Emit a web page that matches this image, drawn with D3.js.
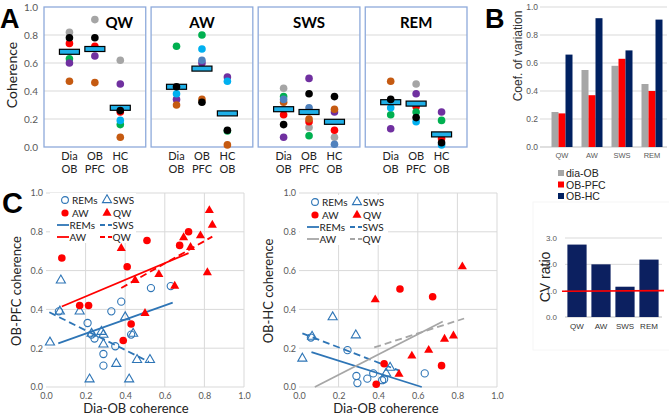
<!DOCTYPE html>
<html>
<head>
<meta charset="utf-8">
<script src="https://cdn.jsdelivr.net/npm/d3@7"></script>
<style>
  body { margin: 0; background: #fff; }
  svg { display: block; font-family: Lato, "Liberation Sans", Arial, sans-serif; }
  .arial { font-family: "Liberation Sans", Arial, sans-serif; }
</style>
</head>
<body>
<div id="chart"></div>
<script>
// ---------- data ----------
var states = ["QW", "AW", "SWS", "REM"];
var pairs = [["Dia", "OB"], ["OB", "PFC"], ["HC", "OB"]];
var animals = ["R1", "R2", "R3", "R4", "R5", "R6", "R7", "R8"];
var cohTicks = [0, 0.2, 0.4, 0.6, 0.8, 1.0];

// coherence per animal (R1..R8), rows: Dia-OB, OB-PFC, HC-OB
var qwCoh = [
  [0.82, 0.78, 0.74, 0.63, 0.60, 0.47, null, null],
  [0.91, 0.78, 0.72, null, 0.65, 0.46, null, null],
  [0.62, 0.26, 0.25, 0.16, 0.45, 0.07, 0.19, null]
];
var awCoh = [
  [null, 0.43, null, 0.72, 0.34, 0.30, 0.38, null],
  [null, 0.32, null, 0.80, 0.60, 0.34, 0.70, 0.62],
  [null, 0.12, null, 0.115, 0.50, 0.015, 0.47, null]
];
var swsCoh = [
  [0.42, 0.16, 0.23, 0.36, 0.07, 0.32, null, 0.34],
  [0.14, 0.38, 0.18, 0.08, 0.49, 0.20, null, 0.28],
  [0.07, 0.36, 0.12, null, 0.25, 0.27, null, 0.02]
];
var remCoh = [
  [null, 0.34, null, 0.23, 0.13, 0.47, 0.28, null],
  [0.45, 0.21, 0.29, 0.25, 0.38, null, 0.18, null],
  [null, 0.03, 0.06, 0.19, 0.25, null, 0.015, null]
];
var qwMean = [0.68, 0.70, 0.28];
var awMean = [0.43, 0.56, 0.24];
var swsMean = [0.27, 0.25, 0.18];
var remMean = [0.32, 0.31, 0.09];

// B: coefficient of variation
var cvSeries = ["dia-OB", "OB-PFC", "OB-HC"];
var cvDiaOB = [0.25, 0.55, 0.58, 0.45];
var cvObPfc = [0.24, 0.37, 0.63, 0.40];
var cvObHc = [0.66, 0.92, 0.69, 0.91];
var cvRatio = [2.75, 2.0, 1.15, 2.18];
var cvTicks = [0, 0.2, 0.4, 0.6, 0.8, 1.0];
var ratioTicks = [0, 1, 2, 3];

// C: scatter, [Dia-OB, OB-PFC]
var remPfc = [[0.065,0.39],[0.21,0.33],[0.23,0.27],[0.245,0.25],[0.29,0.17],[0.29,0.11],[0.33,0.39],[0.35,0.21],[0.38,0.44],[0.43,0.27],[0.53,0.51],[0.63,0.52]];
var swsPfc = [[0.02,0.23],[0.075,0.55],[0.07,0.39],[0.17,0.39],[0.23,0.275],[0.28,0.285],[0.29,0.27],[0.29,0.22],[0.22,0.04],[0.355,0.12],[0.40,0.36],[0.44,0.275],[0.42,0.04],[0.46,0.14],[0.525,0.14]];
var awPfc = [[0.08,0.665],[0.17,0.42],[0.215,0.42],[0.39,0.24],[0.43,0.325],[0.41,0.62],[0.51,0.755],[0.675,0.73],[0.72,0.80]];
var qwPfc = [[0.38,0.715],[0.45,0.55],[0.50,0.38],[0.57,0.58],[0.65,0.52],[0.695,0.77],[0.73,0.72],[0.78,0.78],[0.825,0.91],[0.84,0.835],[0.815,0.59]];
var trendPfc = {
  rem: [[0.062,0.225],[0.64,0.435]],
  sws: [[0.017,0.385],[0.52,0.13]],
  aw:  [[0.08,0.415],[0.72,0.69]],
  qw:  [[0.38,0.51],[0.84,0.775]]
};
// C: scatter, [Dia-OB, OB-HC]
var remHc = [[0.06,0.255],[0.245,0.19],[0.29,0.057],[0.295,0.02],[0.345,0.043],[0.375,0.07],[0.42,0.035],[0.43,0.04],[0.635,0.07]];
var swsHc = [[0.017,0.147],[0.066,0.26],[0.17,0.36],[0.287,0.267],[0.44,0.07],[0.46,0.10]];
var awHc = [[0.39,0.014],[0.43,0.12],[0.51,0.505],[0.675,0.465],[0.72,0.11]];
var qwHc = [[0.385,0.45],[0.505,0.066],[0.57,0.16],[0.655,0.19],[0.735,0.247],[0.78,0.264],[0.825,0.62]];
var trendHc = {
  rem: [[0.063,0.18],[0.62,0.0]],
  sws: [[0.017,0.276],[0.51,0.083]],
  aw:  [[0.08,0.0],[0.726,0.338]],
  qw:  [[0.38,0.204],[0.834,0.353]]
};

// ---------- drawing ----------
var svg = d3.select("#chart").append("svg").attr("width", 669).attr("height", 415);
var fmt1 = d3.format(".1f");
var gridCol = "#d9d9d9", tickCol = "#595959";
var blue = "#2e75b6", red = "#ff0000";

function panelLetter(t, x, y, size) {
  svg.append("text").attr("x", x).attr("y", y).attr("font-size", size)
    .attr("font-weight", "bold").attr("class", "arial").text(t);
}

// ===== A =====
var yA = d3.scaleLinear().domain([0, 1]).range([147, 7]);
var boxX = d3.scaleBand().domain(states).range([44, 467]).paddingInner(0.05);
var pairX = d3.scalePoint().domain([0, 1, 2]).range([0, boxX.bandwidth()]).padding(1);
var animalColor = d3.scaleOrdinal().domain(animals)
  .range(["#a5a5a5", "#000000", "#ff0000", "#00b050", "#7030a0", "#c55a11", "#00b0f0", "#4f81bd"]);
var cohByState = [qwCoh, awCoh, swsCoh, remCoh];
var meanByState = [qwMean, awMean, swsMean, remMean];

panelLetter("A", 0, 28, 27);
svg.append("g").attr("transform", "translate(38,0)")
  .call(d3.axisLeft(yA).tickValues(cohTicks).tickFormat(fmt1).tickSize(0).tickPadding(0))
  .call(function (g) { g.select(".domain").remove(); })
  .selectAll("text").attr("font-size", 10).attr("fill", tickCol).attr("font-family", "Lato");
svg.append("text").attr("transform", "translate(17,75) rotate(-90)")
  .attr("text-anchor", "middle").attr("font-size", 14).attr("fill", "#222").text("Coherence");

states.forEach(function (s, si) {
  var bw = boxX.bandwidth();
  var g = svg.append("g").attr("transform", "translate(" + boxX(s) + ",0)");
  g.selectAll(".grid").data(cohTicks.slice(1, 5)).join("line")
    .attr("x1", 0).attr("x2", bw).attr("y1", function (d) { return yA(d); }).attr("y2", function (d) { return yA(d); })
    .attr("stroke", gridCol);
  g.append("rect").attr("x", 0).attr("y", yA(1)).attr("width", bw).attr("height", yA(0) - yA(1))
    .attr("fill", "none").attr("stroke", "#8eaadb").attr("stroke-width", 1.3);
  g.append("text").attr("x", si === 0 ? bw * 0.74 : bw / 2).attr("y", 28)
    .attr("text-anchor", "middle").attr("font-size", 15).attr("font-weight", "bold").text(s);

  var dots = [];
  cohByState[si].forEach(function (row, pi) {
    row.forEach(function (v, ai) { if (v !== null) dots.push({ p: pi, a: animals[ai], v: v }); });
  });
  var drawDots = function (list) {
    g.selectAll(null).data(list).join("circle")
      .attr("cx", function (d) { return pairX(d.p); }).attr("cy", function (d) { return yA(d.v); })
      .attr("r", 3.8).attr("fill", function (d) { return animalColor(d.a); });
  };
  drawDots(dots.filter(function (d) { return d.a !== "R2"; }));
  g.selectAll(null).data(meanByState[si]).join("rect")
    .attr("x", function (d, i) { return pairX(i) - 10; }).attr("y", function (d) { return yA(d) - 2.5; })
    .attr("width", 20).attr("height", 5).attr("fill", "#1fb0e8").attr("stroke", "#000").attr("stroke-width", 1.2);
  drawDots(dots.filter(function (d) { return d.a === "R2"; }));

  pairs.forEach(function (p, pi) {
    var t = g.append("text").attr("text-anchor", "middle").attr("font-size", 11).attr("fill", "#222");
    t.append("tspan").attr("x", pairX(pi)).attr("y", 160).text(p[0]);
    t.append("tspan").attr("x", pairX(pi)).attr("y", 173).text(p[1]);
  });
});

// ===== B =====
var yB = d3.scaleLinear().domain([0, 1]).range([147, 7]);
var xB = d3.scaleBand().domain(states).range([547, 667]).paddingInner(0.3).paddingOuter(0.15);
var xBin = d3.scaleBand().domain(cvSeries).range([0, xB.bandwidth()]);
var cvColor = d3.scaleOrdinal().domain(cvSeries).range(["#a6a6a6", "#ff0000", "#002060"]);
var cvValues = [cvDiaOB, cvObPfc, cvObHc];

panelLetter("B", 485, 28, 27);
var gB = svg.append("g").attr("class", "arial");
gB.selectAll(".grid").data(cvTicks.slice(1)).join("line")
  .attr("x1", 540).attr("x2", 667).attr("y1", function (d) { return yB(d); }).attr("y2", function (d) { return yB(d); })
  .attr("stroke", gridCol);
gB.append("line").attr("x1", 540).attr("x2", 667).attr("y1", yB(0)).attr("y2", yB(0)).attr("stroke", "#bfbfbf");
gB.append("g").attr("transform", "translate(538,0)")
  .call(d3.axisLeft(yB).tickValues(cvTicks).tickFormat(fmt1).tickSize(0).tickPadding(0))
  .call(function (g) { g.select(".domain").remove(); })
  .selectAll("text").attr("font-size", 8.5).attr("fill", tickCol).attr("font-family", null);
cvSeries.forEach(function (s, k) {
  gB.selectAll(null).data(cvValues[k]).join("rect")
    .attr("x", function (d, i) { return xB(states[i]) + xBin(s); })
    .attr("y", function (d) { return yB(d); })
    .attr("width", xBin.bandwidth()).attr("height", function (d) { return yB(0) - yB(d); })
    .attr("fill", cvColor(s));
});
gB.selectAll(".cat").data(states).join("text")
  .attr("x", function (d) { return xB(d) + xB.bandwidth() / 2; }).attr("y", 158)
  .attr("text-anchor", "middle").attr("font-size", 7.5).attr("fill", tickCol).text(function (d) { return d; });
gB.append("text").attr("transform", "translate(522,56) rotate(-90)").attr("text-anchor", "middle")
  .attr("font-size", 12).attr("fill", "#333").text("Coef. of variation");
var leg = gB.selectAll(".leg").data(cvSeries).join("g")
  .attr("transform", function (d, i) { return "translate(558," + (173 + i * 11.5) + ")"; });
leg.append("rect").attr("x", 0).attr("y", -3).attr("width", 6).attr("height", 6).attr("fill", function (d) { return cvColor(d); });
leg.append("text").attr("x", 8).attr("y", 4).attr("font-size", 10.5).attr("fill", "#222").text(function (d) { return d; });

// CV ratio
var yR = d3.scaleLinear().domain([0, 3]).range([317, 238]);
var xR = d3.scaleBand().domain(states).range([565, 661]).paddingInner(0.2).paddingOuter(0.1);
var gR = svg.append("g").attr("class", "arial");
gR.append("rect").attr("x", 533).attr("y", 202).attr("width", 140).attr("height", 148)
  .attr("fill", "none").attr("stroke", "#f6f6f6");
gR.selectAll(".grid").data(ratioTicks.slice(1)).join("line")
  .attr("x1", 565).attr("x2", 662).attr("y1", function (d) { return yR(d); }).attr("y2", function (d) { return yR(d); })
  .attr("stroke", gridCol);
gR.append("line").attr("x1", 565).attr("x2", 662).attr("y1", yR(0)).attr("y2", yR(0)).attr("stroke", "#bfbfbf");
gR.append("g").attr("transform", "translate(557,0)")
  .call(d3.axisLeft(yR).tickValues(ratioTicks).tickSize(0).tickPadding(0))
  .call(function (g) { g.select(".domain").remove(); })
  .selectAll("text").attr("font-size", 8).attr("fill", tickCol).attr("font-family", null);
gR.selectAll(".bar").data(cvRatio).join("rect")
  .attr("x", function (d, i) { return xR(states[i]); }).attr("y", function (d) { return yR(d); })
  .attr("width", xR.bandwidth()).attr("height", function (d) { return yR(0) - yR(d); })
  .attr("fill", "#0c2060");
gR.append("line").attr("x1", 562).attr("x2", 664).attr("y1", yR(0.98)).attr("y2", yR(1.0))
  .attr("stroke", "#ff0000").attr("stroke-width", 1.6);
gR.selectAll(".cat").data(states).join("text")
  .attr("x", function (d) { return xR(d) + xR.bandwidth() / 2; }).attr("y", 329)
  .attr("text-anchor", "middle").attr("font-size", 8).attr("fill", "#333").text(function (d) { return d; });
gR.append("text").attr("transform", "translate(550,277) rotate(-90)").attr("text-anchor", "middle")
  .attr("font-size", 14).attr("fill", "#222").text("CV ratio");

// ===== C =====
panelLetter("C", 2, 213, 29);

function scatter(x0, yTitle, yTitleX, xTitleX, pts, trend, wakeLine, legBg) {
  var x = d3.scaleLinear().domain([0, 1]).range([x0, x0 + 198]);
  var y = d3.scaleLinear().domain([0, 1]).range([387, 193]);
  var g = svg.append("g");
  g.selectAll(".hg").data(cohTicks).join("line")
    .attr("x1", x(0)).attr("x2", x(1)).attr("y1", function (d) { return y(d); }).attr("y2", function (d) { return y(d); })
    .attr("stroke", gridCol);
  g.selectAll(".vg").data(cohTicks.slice(1)).join("line")
    .attr("y1", y(0)).attr("y2", y(1)).attr("x1", function (d) { return x(d); }).attr("x2", function (d) { return x(d); })
    .attr("stroke", gridCol);
  g.append("g").attr("transform", "translate(" + (x0 - 3) + ",0)")
    .call(d3.axisLeft(y).tickValues(cohTicks).tickFormat(fmt1).tickSize(0).tickPadding(0))
    .call(function (a) { a.select(".domain").remove(); })
    .selectAll("text").attr("font-size", 9).attr("fill", tickCol).attr("font-family", "Lato");
  g.append("g").attr("transform", "translate(0,393)")
    .call(d3.axisBottom(x).tickValues(cohTicks).tickFormat(fmt1).tickSize(0).tickPadding(0))
    .call(function (a) { a.select(".domain").remove(); })
    .selectAll("text").attr("font-size", 9).attr("fill", tickCol).attr("font-family", "Lato");
  g.append("text").attr("x", xTitleX).attr("y", 413).attr("text-anchor", "middle")
    .attr("font-size", 13).attr("fill", "#222").text("Dia-OB coherence");
  g.append("text").attr("transform", "translate(" + yTitleX + ",291) rotate(-90)").attr("text-anchor", "middle")
    .attr("font-size", 13).attr("fill", "#222").text(yTitle);

  // legend background
  g.append("rect").attr("x", legBg[0]).attr("y", legBg[1]).attr("width", legBg[2]).attr("height", legBg[3]).attr("fill", "#fff");

  var line = d3.line().x(function (d) { return x(d[0]); }).y(function (d) { return y(d[1]); });
  var tri = d3.symbol().type(d3.symbolTriangle).size(36);
  var sty = [
    { k: "rem", c: blue, dash: null, label: "REMs" },
    { k: "sws", c: blue, dash: "7,4", label: "SWS" },
    { k: "aw", c: wakeLine, dash: null, label: "AW" },
    { k: "qw", c: wakeLine, dash: "7,4", label: "QW" }
  ];
  sty.forEach(function (s) {
    g.append("path").datum(trend[s.k]).attr("d", line).attr("fill", "none")
      .attr("stroke", s.c).attr("stroke-width", 1.8).attr("stroke-dasharray", s.dash);
  });
  g.selectAll(null).data(pts.rem).join("circle")
    .attr("cx", function (d) { return x(d[0]); }).attr("cy", function (d) { return y(d[1]); })
    .attr("r", 3.6).attr("fill", "none").attr("stroke", blue).attr("stroke-width", 1.1);
  g.selectAll(null).data(pts.sws).join("path").attr("d", tri)
    .attr("transform", function (d) { return "translate(" + x(d[0]) + "," + y(d[1]) + ")"; })
    .attr("fill", "none").attr("stroke", blue).attr("stroke-width", 1.1);
  g.selectAll(null).data(pts.aw).join("circle")
    .attr("cx", function (d) { return x(d[0]); }).attr("cy", function (d) { return y(d[1]); })
    .attr("r", 3.8).attr("fill", red);
  g.selectAll(null).data(pts.qw).join("path").attr("d", tri)
    .attr("transform", function (d) { return "translate(" + x(d[0]) + "," + y(d[1]) + ")"; })
    .attr("fill", red);

  // legend
  var lx = legBg[0], ly = legBg[1];
  var lg = g.append("g").attr("transform", "translate(" + lx + "," + ly + ")").attr("font-size", 10).attr("fill", "#222");
  lg.append("circle").attr("cx", 15).attr("cy", 7).attr("r", 3.4).attr("fill", "none").attr("stroke", blue).attr("stroke-width", 1.1);
  lg.append("text").attr("x", 22).attr("y", 10.5).text("REMs");
  lg.append("path").attr("d", tri).attr("transform", "translate(57,7)").attr("fill", "none").attr("stroke", blue).attr("stroke-width", 1.1);
  lg.append("text").attr("x", 63).attr("y", 10.5).text("SWS");
  lg.append("circle").attr("cx", 15).attr("cy", 20).attr("r", 3.6).attr("fill", red);
  lg.append("text").attr("x", 22).attr("y", 23.5).text("AW");
  lg.append("path").attr("d", tri).attr("transform", "translate(57,20)").attr("fill", red);
  lg.append("text").attr("x", 63).attr("y", 23.5).text("QW");
  [[sty[0], 7, 32], [sty[1], 50, 32], [sty[2], 7, 44], [sty[3], 50, 44]].forEach(function (r) {
    lg.append("line").attr("x1", r[1]).attr("x2", r[1] + 12).attr("y1", r[2]).attr("y2", r[2])
      .attr("stroke", r[0].c).attr("stroke-width", 1.8).attr("stroke-dasharray", r[0].dash ? "5,3" : null);
    lg.append("text").attr("x", r[1] + 12.5).attr("y", r[2] + 3.5).text(r[0].label);
  });
}

scatter(46, "OB-PFC coherence", 21, 136,
  { rem: remPfc, sws: swsPfc, aw: awPfc, qw: qwPfc }, trendPfc, red, [50, 193, 86, 50]);
scatter(299, "OB-HC coherence", 273, 386,
  { rem: remHc, sws: swsHc, aw: awHc, qw: qwHc }, trendHc, "#a6a6a6", [300, 195, 88, 50]);
</script>
</body>
</html>
